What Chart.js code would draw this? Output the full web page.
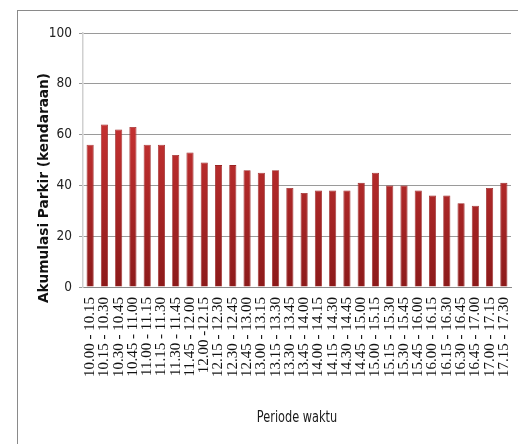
<!DOCTYPE html>
<html>
<head>
<meta charset="utf-8">
<script src="https://cdn.jsdelivr.net/npm/chart.js@4/dist/chart.umd.min.js"></script>
<style>
  html, body { margin: 0; padding: 0; background: #fff; }
  #wrap { position: relative; width: 518px; height: 444px; overflow: hidden; }
  #frame { position: absolute; left: 17px; top: 10px; width: 600px; height: 600px;
           border-left: 1.5px solid #8a8a8a; border-top: 1.5px solid #8a8a8a; box-sizing: border-box; }
  canvas { position: absolute; left: 0; top: 0; }
</style>
</head>
<body>
<div id="wrap">
  <div id="frame"></div>
  <canvas id="c" width="518" height="444"></canvas>
</div>
<script>
// 15-minute observation periods
const periods = [
  "10.00 - 10.15", "10.15 - 10.30", "10.30 - 10.45", "10.45 - 11.00",
  "11.00 - 11.15", "11.15 - 11.30", "11.30 - 11.45", "11.45 - 12.00",
  "12.00 -12.15", "12.15 - 12.30", "12.30 - 12.45", "12.45 - 13.00",
  "13.00 - 13.15", "13.15 - 13.30", "13.30 - 13.45", "13.45 - 14.00",
  "14.00 - 14.15", "14.15 - 14.30", "14.30 - 14.45", "14.45 - 15.00",
  "15.00 - 15.15", "15.15 - 15.30", "15.30 - 15.45", "15.45 - 16.00",
  "16.00 - 16.15", "16.15 - 16.30", "16.30 - 16.45", "16.45 - 17.00",
  "17.00 - 17.15", "17.15 - 17.30"
];

// parking accumulation (vehicles) per period
const akumulasi = [
  56, 64, 62, 63, 56, 56, 52, 53, 49, 48,
  48, 46, 45, 46, 39, 37, 38, 38, 38, 41,
  45, 40, 40, 38, 36, 36, 33, 32, 39, 41
];

const yTicks = [0, 20, 40, 60, 80, 100];

const yTitle = "Akumulasi Parkir (kendaraan)";
const xTitle = "Periode waktu";

const condensed = "'DejaVu Sans Condensed', 'DejaVu Sans', sans-serif";

// axis titles drawn at fixed spots beside the plot
const axisTitles = {
  id: 'axisTitles',
  afterDraw(chart) {
    const ctx = chart.ctx;
    ctx.save();
    ctx.fillStyle = '#111';
    ctx.textAlign = 'center';
    ctx.textBaseline = 'middle';
    ctx.font = "bold 13.7px 'DejaVu Sans', Verdana, sans-serif";
    ctx.translate(44, 188);
    ctx.rotate(-Math.PI / 2);
    ctx.fillText(yTitle, 0, 0);
    ctx.restore();

    ctx.save();
    ctx.fillStyle = '#1a1a1a';
    ctx.textAlign = 'center';
    ctx.textBaseline = 'middle';
    ctx.font = "15px " + condensed;
    if ('fontStretch' in ctx) ctx.fontStretch = 'condensed';
    ctx.translate(297, 418);
    ctx.scale(0.84, 1);
    ctx.fillText(xTitle, 0, 0);
    ctx.restore();
  }
};

function barFill(context) {
  const area = context.chart.chartArea;
  if (!area) return '#b02a2a';
  const g = context.chart.ctx.createLinearGradient(0, area.top + 80, 0, area.bottom);
  g.addColorStop(0, '#c83333');
  g.addColorStop(1, '#8c1a1a');
  return g;
}

new Chart(document.getElementById('c'), {
  type: 'bar',
  data: {
    labels: periods,
    datasets: [{
      data: akumulasi,
      backgroundColor: barFill,
      borderColor: '#9a2424',
      borderWidth: 0.8,
      barPercentage: 0.5,
      categoryPercentage: 1.0
    }]
  },
  plugins: [axisTitles],
  options: {
    responsive: false,
    animation: false,
    devicePixelRatio: 1,
    layout: { padding: { left: 0, right: 7, top: 33, bottom: 0 } },
    plugins: { legend: { display: false }, tooltip: { enabled: false } },
    scales: {
      x: {
        grid: { display: false, drawTicks: false },
        border: { display: true, color: '#8a8a8a', width: 1 },
        ticks: {
          autoSkip: false,
          minRotation: 90,
          maxRotation: 90,
          padding: 10,
          color: '#111',
          font: { family: "'Liberation Serif', 'Times New Roman', serif", size: 15 }
        },
        afterFit(scale) {
          scale.height = 157;
          scale.paddingLeft = 0;
          scale.paddingRight = 0;
        }
      },
      y: {
        min: 0,
        max: 100,
        afterBuildTicks(scale) { scale.ticks = yTicks.map(v => ({ value: v })); },
        grid: { color: '#9a9a9a', lineWidth: 1, drawTicks: true, tickLength: 4, tickColor: '#9a9a9a' },
        border: { display: true, color: '#d0d0d0', width: 1.5 },
        ticks: {
          padding: 7,
          color: '#222',
          font: { family: condensed, size: 13.5 }
        },
        afterFit(scale) {
          scale.width = 83;
          scale.paddingTop = 0;
          scale.paddingBottom = 0;
        }
      }
    }
  }
});
</script>
</body>
</html>
